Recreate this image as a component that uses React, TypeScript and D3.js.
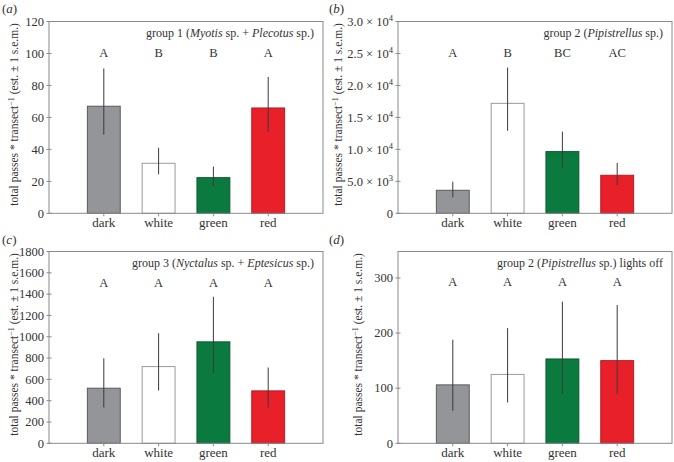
import React from "react";
import * as d3 from "d3";

const categories = ["dark", "white", "green", "red"];
const barColors = ["#939598", "#ffffff", "#0b7a3e", "#e8202a"];
const barStrokes = ["#5a5a5c", "#9a9a9a", "#0a5a2e", "#b51c24"];

const aValues = [67, 31.3, 22.3, 65.9];
const aLow = [49.2, 24.4, 16.7, 51];
const aHigh = [90.6, 41, 29.2, 85.3];
const aLetters = ["A", "B", "B", "A"];
const aTicks = [0, 20, 40, 60, 80, 100, 120];

const bValues = [3600, 17200, 9650, 5950];
const bLow = [2500, 12900, 7140, 4430];
const bHigh = [4950, 22800, 12780, 7880];
const bLetters = ["A", "B", "BC", "AC"];
const bTicks = [0, 5000, 10000, 15000, 20000, 25000, 30000];

const cValues = [517, 720, 952, 492];
const cLow = [335, 495, 658, 335];
const cHigh = [798, 1033, 1375, 711];
const cLetters = ["A", "A", "A", "A"];
const cTicks = [0, 200, 400, 600, 800, 1000, 1200, 1400, 1600, 1800];

const dValues = [106, 125, 153, 150];
const dLow = [59, 74, 90, 89];
const dHigh = [188, 209, 257, 251];
const dLetters = ["A", "A", "A", "A"];
const dTicks = [0, 100, 200, 300];

const FONT = "Liberation Serif";

function sciLabel(v: number) {
  if (v === 0) return <tspan>0</tspan>;
  const exp = Math.floor(Math.log10(v));
  const m = v / Math.pow(10, exp);
  return (
    <>
      <tspan>{m.toFixed(1)} × 10</tspan>
      <tspan dy={-5} fontSize={8.5}>{exp}</tspan>
    </>
  );
}

type PanelProps = {
  ox: number;
  oy: number;
  left: number;
  label: string;
  title: React.ReactNode;
  values: number[];
  low: number[];
  high: number[];
  letters: string[];
  ticks: number[];
  yMax: number;
  sci?: boolean;
  titleX: number;
  lettersY: number;
  labelX: number;
  labelY: number;
};

function Panel(p: PanelProps) {
  const top = 21.5;
  const bottom = 213.3;
  const right = p.left + 274;
  const x = d3.scaleLinear().domain([0, 5]).range([p.left, right]);
  const y = d3.scaleLinear().domain([0, p.yMax]).range([bottom, top]);
  const bw = x(0.6) - x(0);
  const frame = "#8a8a8a";
  return (
    <g transform={`translate(${p.ox},${p.oy})`}>
      <text x={p.labelX} y={p.labelY} fontSize={13} fill="#333">
        (<tspan fontStyle="italic">{p.label}</tspan>)
      </text>
      {categories.map((c, i) => {
        const cx = x(i + 1);
        return (
          <g key={c}>
            <rect
              x={cx - bw / 2}
              y={y(p.values[i])}
              width={bw}
              height={y(0) - y(p.values[i])}
              fill={barColors[i]}
              stroke={barStrokes[i]}
              strokeWidth={1}
            />
            <line x1={cx} x2={cx} y1={y(p.low[i])} y2={y(p.high[i])} stroke="#3a3a3a" strokeWidth={1} />
            <line x1={cx} x2={cx} y1={bottom} y2={bottom + 3} stroke={frame} />
            <text x={cx} y={bottom + 14} textAnchor="middle" fontSize={13} fill="#333">
              {c}
            </text>
            <text x={cx} y={p.lettersY} textAnchor="middle" fontSize={12.5} fill="#333">
              {p.letters[i]}
            </text>
          </g>
        );
      })}
      <rect x={p.left} y={top} width={right - p.left} height={bottom - top} fill="none" stroke={frame} strokeWidth={1} />
      {p.ticks.map((t) => (
        <g key={t}>
          <line x1={p.left - 2.5} x2={p.left + 2.5} y1={y(t)} y2={y(t)} stroke={frame} />
          <text x={p.left - 5} y={y(t) + 4.3} textAnchor="end" fontSize={12.5} fill="#333">
            {p.sci ? sciLabel(t) : t}
          </text>
        </g>
      ))}
      <text x={right - 9} y={36.5} textAnchor="end" fontSize={12} fill="#333">
        {p.title}
      </text>
      <text
        transform={`translate(${p.titleX},${(top + bottom) / 2 - 3}) rotate(-90)`}
        textAnchor="middle"
        fontSize={11.5}
        fill="#333"
      >
        total passes * transect<tspan dy={-4} fontSize={8}>−1</tspan>
        <tspan dy={4}> (est. ± 1 s.e.m.)</tspan>
      </text>
    </g>
  );
}

export default function App() {
  return (
    <svg
      width={674}
      height={462}
      style={{ position: "absolute", left: 0, top: 0, background: "#fff", fontFamily: FONT }}
    >
      <Panel
        ox={0} oy={0} left={49} label="a"
        title={<>group 1 (<tspan fontStyle="italic">Myotis</tspan> sp. + <tspan fontStyle="italic">Plecotus</tspan> sp.)</>}
        values={aValues} low={aLow} high={aHigh} letters={aLetters} ticks={aTicks} yMax={120}
        titleX={18} lettersY={57} labelX={2} labelY={13}
      />
      <Panel
        ox={0} oy={0} left={398} label="b"
        title={<>group 2 (<tspan fontStyle="italic">Pipistrellus</tspan> sp.)</>}
        values={bValues} low={bLow} high={bHigh} letters={bLetters} ticks={bTicks} yMax={30000} sci
        titleX={342} lettersY={57} labelX={329} labelY={13}
      />
      <Panel
        ox={0} oy={230} left={49} label="c"
        title={<>group 3 (<tspan fontStyle="italic">Nyctalus</tspan> sp. + <tspan fontStyle="italic">Eptesicus</tspan> sp.)</>}
        values={cValues} low={cLow} high={cHigh} letters={cLetters} ticks={cTicks} yMax={1800}
        titleX={18} lettersY={57} labelX={2} labelY={14}
      />
      <Panel
        ox={0} oy={230} left={398} label="d"
        title={<>group 2 (<tspan fontStyle="italic">Pipistrellus</tspan> sp.) lights off</>}
        values={dValues} low={dLow} high={dHigh} letters={dLetters} ticks={dTicks} yMax={348}
        titleX={362} lettersY={56} labelX={329} labelY={14}
      />
    </svg>
  );
}
